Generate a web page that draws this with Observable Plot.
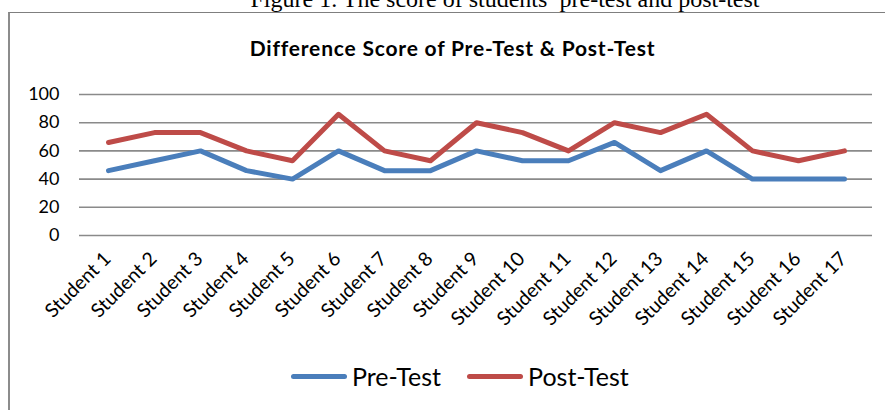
<!DOCTYPE html>
<html>
<head>
<meta charset="utf-8">
<script src="https://cdn.jsdelivr.net/npm/d3@7"></script>
<script src="https://cdn.jsdelivr.net/npm/@observablehq/plot@0.6"></script>
<style>
  html, body { margin: 0; padding: 0; background: #fff; }
  #wrap { position: relative; width: 885px; height: 410px; overflow: hidden; background: #fff; }
  #caption { position: absolute; left: 0; width: 1010px; top: -13px; text-align: center;
    font-family: "Liberation Serif", "Times New Roman", serif; font-size: 24px; line-height: 24px; color: #000; white-space: nowrap; }
  #frame { position: absolute; left: 8px; top: 12px; width: 900px; height: 420px;
    border-top: 1px solid #7f7f7f; border-left: 2px solid #8c8c8c; }
  #title { position: absolute; left: 0; width: 905px; top: 35px; text-align: center;
    font-family: Lato, "Open Sans", sans-serif; font-weight: bold; font-size: 21px; letter-spacing: 0.8px; line-height: 1.2; color: #000; white-space: nowrap; }
  #chart { position: absolute; left: 0; top: 70px; }
  #legend { position: absolute; top: 362px; left: 291px; display: flex; align-items: center;
    font-family: Lato, "Open Sans", sans-serif; font-size: 25px; line-height: 28px; color: #000; }
  .item { display: flex; align-items: center; margin-right: 26px; }
  .swatch { width: 56px; height: 5px; border-radius: 3px; margin-right: 5px; }
</style>
</head>
<body>
<div id="wrap">
  <div id="caption"></div>
  <div id="frame"></div>
  <div id="title"></div>
  <div id="chart"></div>
  <div id="legend"></div>
</div>
<script>
const captionText = "Figure 1. The score of students\u2019 pre-test and post-test";
const titleText = "Difference Score of Pre-Test & Post-Test";
const students = ["Student 1","Student 2","Student 3","Student 4","Student 5","Student 6","Student 7","Student 8","Student 9","Student 10","Student 11","Student 12","Student 13","Student 14","Student 15","Student 16","Student 17"];
const preTest  = [46, 53, 60, 46, 40, 60, 46, 46, 60, 53, 53, 66, 46, 60, 40, 40, 40];
const postTest = [66, 73, 73, 60, 53, 86, 60, 53, 80, 73, 60, 80, 73, 86, 60, 53, 60];
const yTicks = [0, 20, 40, 60, 80, 100];
const seriesNames = ["Pre-Test", "Post-Test"];
const seriesColors = ["#4a7ebb", "#be4b48"];

document.getElementById("caption").textContent = captionText;
document.getElementById("title").textContent = titleText;

const rows = [];
students.forEach((s, i) => {
  rows.push({student: s, series: seriesNames[0], value: preTest[i]});
  rows.push({student: s, series: seriesNames[1], value: postTest[i]});
});

const chart = Plot.plot({
  width: 885,
  height: 270,
  marginTop: 24,
  marginBottom: 105,
  marginLeft: 79,
  marginRight: 13,
  style: {background: "transparent", fontFamily: "Lato, 'Open Sans', sans-serif", color: "#000"},
  x: {type: "point", domain: students, padding: 0.5},
  y: {domain: [0, 100]},
  color: {domain: seriesNames, range: seriesColors},
  marks: [
    Plot.ruleY(yTicks, {stroke: "#8a8a8a", strokeWidth: 1.6}),
    Plot.axisY({ticks: yTicks, tickSize: 0, tickPadding: 20, fontSize: 18, label: null}),
    Plot.axisX({tickSize: 0, tickRotate: -45, tickPadding: 20, dx: -1, fontSize: 19.5, label: null}),
    Plot.line(rows, {x: "student", y: "value", z: "series", stroke: "series",
      strokeWidth: 5, strokeLinejoin: "round", strokeLinecap: "round"})
  ]
});
document.getElementById("chart").appendChild(chart);

const legend = document.getElementById("legend");
seriesNames.forEach((name, i) => {
  const item = document.createElement("div");
  item.className = "item";
  const sw = document.createElement("div");
  sw.className = "swatch";
  sw.style.background = seriesColors[i];
  const label = document.createElement("span");
  label.textContent = name;
  item.appendChild(sw);
  item.appendChild(label);
  legend.appendChild(item);
});
</script>
</body>
</html>
